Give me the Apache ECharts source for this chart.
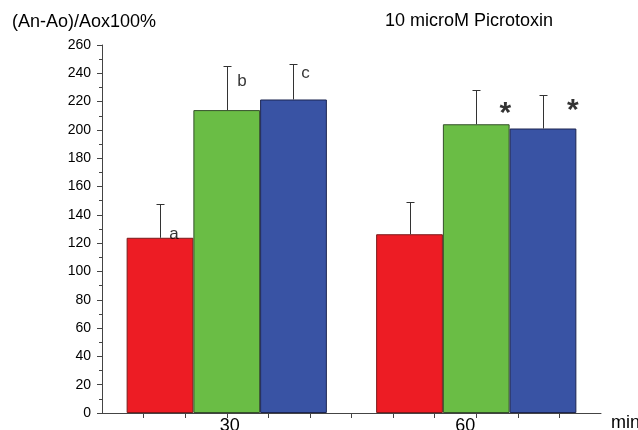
<!DOCTYPE html>
<html>
<head>
<meta charset="utf-8">
<script src="https://cdn.jsdelivr.net/npm/echarts@6/dist/echarts.min.js"></script>
<style>
  html, body { margin: 0; padding: 0; background: #fff; }
  #chart { width: 638px; height: 430px; }
</style>
</head>
<body>
<div id="chart"></div>
<script>
// time points (min)
var times = ['30', '60'];
// bar means
var redVals = [123.8, 126.3];
var greenVals = [214, 204];
var blueVals = [221.5, 201];
// upper error (SD)
var redErr = [23.8, 22.7];
var greenErr = [31, 24];
var blueErr = [25, 24];
// letters / stars drawn above the bars
var marks = [
    { text: 'a', at: [23.66, 126], big: false },
    { text: 'b', at: [31.84, 234.6], big: false },
    { text: 'c', at: [39.48, 240.2], big: false },
    { text: '*', at: [63.5, 215.5], big: true },
    { text: '*', at: [71.6, 217.6], big: true }
];

var FONT = 'Liberation Sans, Arial, sans-serif';
var BAR_W = 0.2675; // share of one category band

function errSeries(vals, errs, slot) {
    return {
        type: 'custom',
        xAxisIndex: 0,
        yAxisIndex: 0,
        z: 5,
        data: vals.map(function (v, i) { return [i, v, errs[i]]; }),
        renderItem: function (params, api) {
            var band = api.size([1, 0])[0];
            var base = api.coord([api.value(0), api.value(1)]);
            var top = api.coord([api.value(0), api.value(1) + api.value(2)]);
            var x = Math.round(base[0] + (slot - 1) * band * BAR_W) + 0.5;
            var ty = Math.round(top[1]) + 0.5;
            var st = { stroke: '#333', lineWidth: 1 };
            return {
                type: 'group',
                children: [
                    { type: 'line', shape: { x1: x, y1: base[1], x2: x, y2: ty }, style: st },
                    { type: 'line', shape: { x1: x - 4, y1: ty, x2: x + 4, y2: ty }, style: st }
                ]
            };
        }
    };
}

var chart = echarts.init(document.getElementById('chart'));
chart.setOption({
    animation: false,
    title: [
        { text: '(An-Ao)/Aox100%', left: 12, top: 13, padding: 0,
          textStyle: { fontFamily: FONT, fontSize: 18, fontWeight: 'normal', color: '#000' } },
        { text: '10 microM Picrotoxin', left: 385, top: 12, padding: 0,
          textStyle: { fontFamily: FONT, fontSize: 18, fontWeight: 'normal', color: '#000' } }
    ],
    grid: { left: 102, right: 37, top: 45, bottom: 17, containLabel: false, outerBoundsMode: 'none' },
    xAxis: [
        {
            type: 'category',
            data: times,
            show: false
        },
        {
            type: 'value',
            min: 15,
            max: 75,
            interval: 5,
            position: 'bottom',
            axisLine: { onZero: false, lineStyle: { color: '#444', width: 1 } },
            axisTick: { show: true, inside: false, length: 5, lineStyle: { color: '#444' } },
            axisLabel: {
                margin: 4,
                color: '#000',
                fontFamily: FONT,
                fontSize: 18,
                showMinLabel: false,
                showMaxLabel: false,
                formatter: function (v) {
                    if (v === 30) return '{r|30}';
                    if (v === 60) return '{l|60}';
                    return '';
                },
                rich: {
                    r: { fontFamily: FONT, fontSize: 18, color: '#000', padding: [0, 0, 0, 6] },
                    l: { fontFamily: FONT, fontSize: 18, color: '#000', padding: [0, 22, 0, 0] }
                }
            },
            splitLine: { show: false },
            name: 'min',
            nameLocation: 'end',
            nameGap: 10,
            nameTextStyle: { fontFamily: FONT, fontSize: 18, color: '#000', verticalAlign: 'top', padding: [1, 0, 0, 0] }
        }
    ],
    yAxis: {
        type: 'value',
        min: 0,
        max: 260,
        interval: 20,
        axisLine: { show: true, lineStyle: { color: '#444', width: 1 } },
        axisTick: { show: true, length: 5, lineStyle: { color: '#444' } },
        minorTick: { show: true, splitNumber: 2, length: 3, lineStyle: { color: '#444' } },
        axisLabel: { margin: 11, color: '#000', fontFamily: FONT, fontSize: 14 },
        splitLine: { show: false }
    },
    series: [
        {
            name: 'Group A', type: 'bar', xAxisIndex: 0, data: redVals,
            barWidth: (BAR_W * 100) + '%', barGap: '0%',
            itemStyle: { color: '#ED1C24', borderColor: '#7a1a1a', borderWidth: 1 }
        },
        {
            name: 'Group B', type: 'bar', xAxisIndex: 0, data: greenVals,
            barWidth: (BAR_W * 100) + '%', barGap: '0%',
            itemStyle: { color: '#6ABD45', borderColor: '#34502a', borderWidth: 1 }
        },
        {
            name: 'Group C', type: 'bar', xAxisIndex: 0, data: blueVals,
            barWidth: (BAR_W * 100) + '%', barGap: '0%',
            itemStyle: { color: '#3953A4', borderColor: '#1c2550', borderWidth: 1 }
        },
        errSeries(redVals, redErr, 0),
        errSeries(greenVals, greenErr, 1),
        errSeries(blueVals, blueErr, 2),
        {
            type: 'scatter',
            xAxisIndex: 1,
            yAxisIndex: 0,
            symbolSize: 0,
            z: 6,
            silent: true,
            data: marks.map(function (m) {
                return {
                    value: m.at,
                    label: {
                        show: true,
                        position: 'inside',
                        formatter: m.text,
                        fontFamily: FONT,
                        color: '#000',
                        fontSize: m.big ? 30 : 17,
                        fontWeight: m.big ? 'bold' : 'normal',
                        offset: m.big ? [0, 6] : [0, 0]
                    }
                };
            })
        }
    ]
});
</script>
</body>
</html>
